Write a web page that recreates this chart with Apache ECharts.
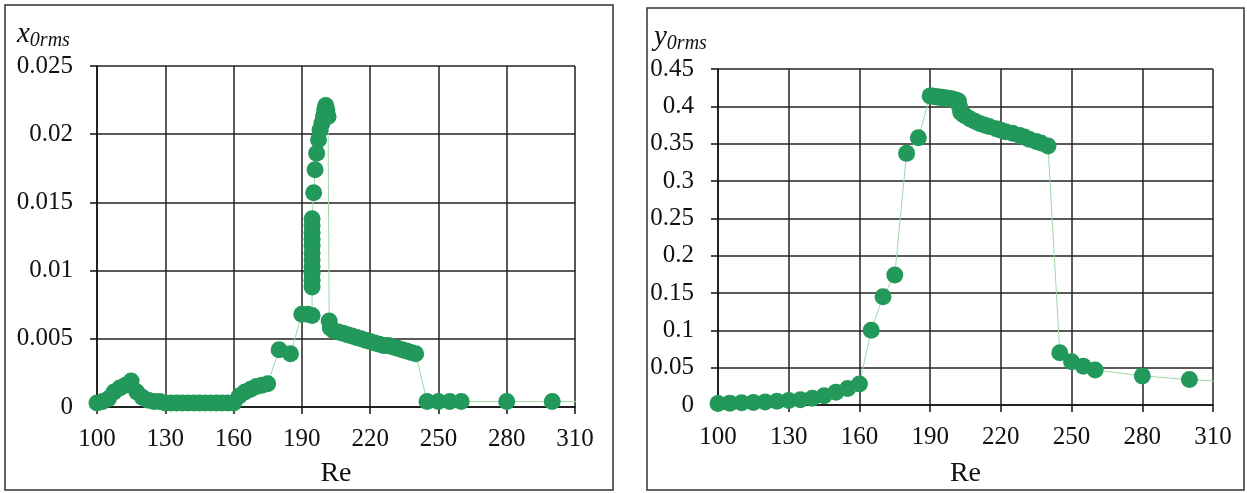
<!DOCTYPE html>
<html>
<head>
<meta charset="utf-8">
<script src="https://cdn.jsdelivr.net/npm/echarts@6/dist/echarts.min.js"></script>
<style>
  html, body { margin: 0; padding: 0; background: #fff; }
  #main { width: 1247px; height: 493px; }
</style>
</head>
<body>
<div id="main"></div>
<script>
// Re ticks (both panels)
const reTicks = [100, 130, 160, 190, 220, 250, 280, 310];

// left panel: x0rms vs Re
const reX = [100, 102.5, 105, 107.5, 110, 112.5, 115, 117.5, 120, 122.5, 125, 127.5, 130, 132.5, 135, 137.5,
  140, 142.5, 145, 147.5, 150, 152.5, 155, 157.5, 160, 162.5, 165, 167.5, 170, 172.5, 175, 180, 185,
  190, 192.5, 194.5, 194.5, 194.5, 194.5, 194.5, 194.5, 194.5, 194.5, 194.5, 194.5, 194.5, 194.5,
  195.2, 195.8, 196.5, 197.3, 198, 198.8, 199.5, 200, 200.5, 201, 201.5,
  202, 202.5, 204, 206, 208, 210, 212, 214, 216, 218, 220, 222, 224, 226, 228, 230, 232, 234, 236, 238, 240,
  245, 250, 255, 260, 280, 300, 320];
const x0rms = [0.0003, 0.0004, 0.0006, 0.0011, 0.0014, 0.0016, 0.0019, 0.0011, 0.0007, 0.0005, 0.0004, 0.0004, 0.0003, 0.0003, 0.0003, 0.0003,
  0.0003, 0.0003, 0.0003, 0.0003, 0.0003, 0.0003, 0.0003, 0.0003, 0.0003, 0.0008, 0.0011, 0.0013, 0.0015, 0.0016, 0.0017, 0.0042, 0.0039,
  0.0068, 0.0068, 0.0067, 0.0088, 0.0093, 0.0098, 0.0103, 0.0108, 0.0113, 0.0118, 0.0123, 0.0128, 0.0133, 0.0138,
  0.0157, 0.0174, 0.0186, 0.0196, 0.0203, 0.0208, 0.0213, 0.0218, 0.0221, 0.0218, 0.0213,
  0.0063, 0.0058, 0.0056, 0.0055, 0.0054, 0.0053, 0.0052, 0.0051, 0.0050, 0.0049, 0.0048, 0.0047, 0.0046, 0.0045, 0.0045, 0.0044, 0.0043, 0.0042, 0.0041, 0.0040, 0.0039,
  0.0004, 0.0004, 0.0004, 0.0004, 0.0004, 0.0004, 0.0004];

// right panel: y0rms vs Re
const reY = [100, 105, 110, 115, 120, 125, 130, 135, 140, 145, 150, 155, 160, 165, 170, 175, 180, 185,
  190, 191, 192, 193, 194, 195, 196, 197, 198, 199, 200, 201, 202, 202.5, 203, 204, 205, 207, 209, 211, 213, 215,
  218, 220, 222, 225, 228, 230, 232, 235, 237, 240, 245, 250, 255, 260, 280, 300, 320];
const y0rms = [0.002, 0.0025, 0.003, 0.0035, 0.004, 0.005, 0.006, 0.007, 0.009, 0.0125, 0.017, 0.022, 0.028, 0.1, 0.145, 0.174, 0.337, 0.358,
  0.414, 0.414, 0.413, 0.413, 0.412, 0.412, 0.411, 0.411, 0.41, 0.41, 0.409, 0.408, 0.407, 0.399, 0.392, 0.389, 0.387, 0.383, 0.38, 0.377, 0.375, 0.373,
  0.37, 0.368, 0.366, 0.364, 0.361, 0.359, 0.356, 0.353, 0.351, 0.347, 0.07, 0.058, 0.052, 0.047, 0.039, 0.034, 0.031];

const green = '#22985a';
const font = 'Liberation Serif';

function xAxisOf(idx, gap) {
    return {
        gridIndex: idx, type: 'value', min: reTicks[0], max: reTicks[reTicks.length - 1], interval: 30,
        name: 'Re', nameLocation: 'middle', nameGap: gap,
        nameTextStyle: {fontFamily: font, fontSize: 28, color: '#111'},
        axisLine: {show: true, onZero: false, lineStyle: {color: '#111', width: 1.5}},
        axisTick: {show: true, length: 7, lineStyle: {color: '#111', width: 1.5}},
        axisLabel: {fontFamily: font, fontSize: 25, color: '#111', margin: 20},
        splitLine: {show: true, lineStyle: {color: '#222', width: 1.5}}
    };
}

function yAxisOf(idx, max, step) {
    return {
        gridIndex: idx, type: 'value', min: 0, max: max, interval: step,
        axisLine: {show: true, lineStyle: {color: '#111', width: 1.5}},
        axisTick: {show: true, length: 7, lineStyle: {color: '#111', width: 1.5}},
        axisLabel: {fontFamily: font, fontSize: 25, color: '#111', margin: 24},
        splitLine: {show: true, lineStyle: {color: '#222', width: 1.5}}
    };
}

function seriesOf(idx, xs, ys) {
    return {
        type: 'line', xAxisIndex: idx, yAxisIndex: idx,
        data: xs.map((x, i) => [x, ys[i]]),
        symbol: 'circle', symbolSize: 17, clip: true,
        itemStyle: {color: green},
        lineStyle: {color: '#9fd8ab', width: 1},
        animation: false
    };
}

let chart = echarts.init(document.getElementById('main'));
const option = {
    animation: false,
    grid: [
        {left: 97, top: 66, width: 478, height: 341},
        {left: 718, top: 69, width: 495, height: 342}
    ],
    xAxis: [xAxisOf(0, 53), xAxisOf(1, 55)],
    yAxis: [yAxisOf(0, 0.025, 0.005), yAxisOf(1, 0.45, 0.05)],
    series: [seriesOf(0, reX, x0rms), seriesOf(1, reY, y0rms)],
    graphic: [
        {type: 'rect', shape: {x: 5, y: 5, width: 608, height: 485}, style: {fill: null, stroke: '#333', lineWidth: 1.5}, silent: true},
        {type: 'rect', shape: {x: 647, y: 8, width: 597, height: 482}, style: {fill: null, stroke: '#333', lineWidth: 1.5}, silent: true},
        {
            type: 'text', left: 17, top: 20,
            style: {
                text: '{a|x}{b|0rms}',
                rich: {
                    a: {fontFamily: font, fontStyle: 'italic', fontSize: 29, fill: '#111'},
                    b: {fontFamily: font, fontStyle: 'italic', fontSize: 20, fill: '#111', padding: [13, 0, 0, 0]}
                }
            }
        },
        {
            type: 'text', left: 654, top: 23,
            style: {
                text: '{a|y}{b|0rms}',
                rich: {
                    a: {fontFamily: font, fontStyle: 'italic', fontSize: 29, fill: '#111'},
                    b: {fontFamily: font, fontStyle: 'italic', fontSize: 20, fill: '#111', padding: [13, 0, 0, 0]}
                }
            }
        }
    ]
};

chart.setOption(option);

window.addEventListener('resize', function () {
    chart.resize();
});
</script>
</body>
</html>
